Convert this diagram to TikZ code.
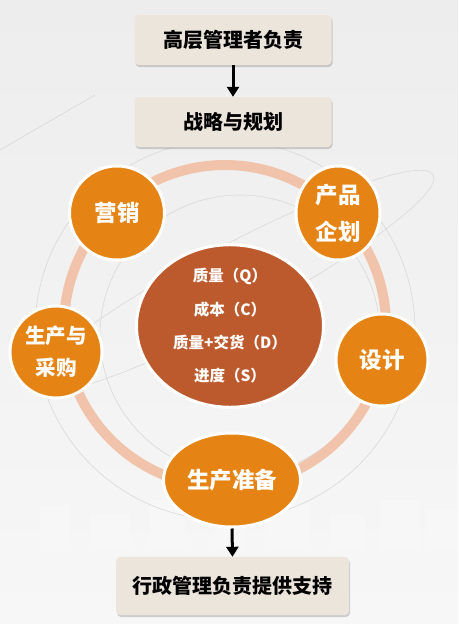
\documentclass[tikz,border=0pt]{standalone}
\usepackage{fontspec}
\setmainfont{Noto Sans CJK SC}
\usetikzlibrary{shapes.geometric,shadows,arrows.meta}
\definecolor{bgtop}{HTML}{EDEDED}
\definecolor{bgbot}{HTML}{F7F7F7}
\definecolor{orangec}{HTML}{E58414}
\definecolor{rustc}{HTML}{BD5A2D}
\definecolor{ringc}{HTML}{F0C3AA}
\definecolor{boxc}{HTML}{ECE5DC}
\definecolor{decoc}{HTML}{D9D9D9}
\begin{document}
\begin{tikzpicture}[x=1pt,y=-1pt,
  topbox/.style={draw=none,fill=boxc,rounded corners=4pt,inner sep=0pt,
    drop shadow={shadow xshift=1pt,shadow yshift=-2pt,opacity=.35,fill=gray},
    font=\fontsize{20}{22}\selectfont\bfseries,text=black},
  bubble/.style={ellipse,draw=white,line width=3pt,fill=orangec,inner sep=0pt,
    text=white,align=center,font=\fontsize{22.5}{37}\selectfont\bfseries},
  core/.style={ellipse,draw=white,line width=3pt,fill=rustc,inner sep=0pt,
    text=white,align=center,font=\fontsize{15.5}{33.3}\selectfont\bfseries},
  flow/.style={line width=3pt,-{Triangle[width=12pt,length=10pt]}},
  deco/.style={draw=decoc,line width=0.6pt}
]
\useasboundingbox (0,0) rectangle (458,624);
\shade[top color=bgtop,bottom color=bgbot] (0,0) rectangle (458,624);
% faint decorative pattern
\foreach \x/\y/\w/\h in {40/505/30/40,90/515/40/35,150/500/35/50,215/510/30/40,265/505/45/45,330/515/35/35,380/500/40/50,425/510/33/40}
  \fill[white,opacity=.2] (\x,\y) rectangle ++(\w,\h);
\draw[deco] (225,330) circle[radius=190];
\draw[deco] (240,335) circle[radius=140];
\draw[deco,rotate around={28:(232,282)}] (232,282) ellipse[x radius=228,y radius=36];
\draw[deco] (0,150) -- (95,95);
% ring
\draw[ringc,line width=10pt] (225,326) circle[radius=161];
% boxes
\node[topbox,minimum width=197pt,minimum height=50pt] (top) at (233,40) {高层管理者负责};
\node[topbox,minimum width=197pt,minimum height=50pt] (plan) at (233,122) {战略与规划};
\node[topbox,minimum width=233pt,minimum height=58pt] (admin) at (232.5,586) {行政管理负责提供支持};
% bubbles
\node[core,minimum width=187pt,minimum height=158pt] (qcds) at (230,326)
  {质量（Q）\\成本（C）\\质量+交货（D）\\进度（S）};
\node[bubble,minimum width=95pt,minimum height=94pt] (mkt) at (117,213) {营销};
\node[bubble,minimum width=84pt,minimum height=94pt] (prod) at (338,213) {产品\\企划};
\node[bubble,minimum width=92pt,minimum height=92pt] (design) at (382,360) {设计};
\node[bubble,minimum width=92pt,minimum height=92pt,font=\fontsize{20.5}{32}\selectfont\bfseries] (purch) at (56,352) {生产与\\采购};
\node[bubble,minimum width=137pt,minimum height=94pt] (prep) at (232,480) {生产准备};
% arrows
\draw[flow] (top.south) -- (plan.north);
\draw[flow] (prep.south) -- (admin.north);
\end{tikzpicture}
\end{document}
